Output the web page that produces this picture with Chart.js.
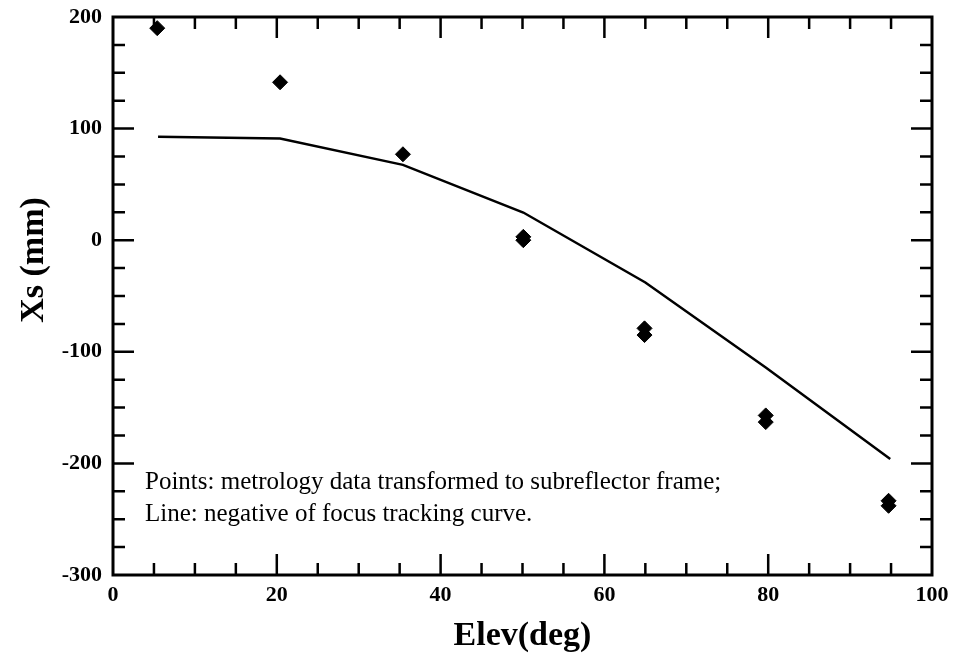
<!DOCTYPE html>
<html>
<head>
<meta charset="utf-8">
<title>Xs vs Elev</title>
<script src="https://cdn.jsdelivr.net/npm/chart.js@4"></script>
<style>
  html, body { margin: 0; padding: 0; background: #fff; }
  #chart { display: block; }
</style>
</head>
<body>
<canvas id="chart" width="953" height="668"></canvas>
<script>
// metrology points (elevation deg, Xs mm) - pairs at same elevation overlap
const pointElev = [5.4, 20.4, 35.4, 50.1, 50.1, 64.9, 64.9, 79.7, 79.7, 94.7, 94.7];
const pointXs   = [190, 141.5, 77, 3, 0, -79, -85, -157, -163, -233.5, -238];

// negative of focus tracking curve
const lineElev = [5.5, 20.4, 35.4, 50.1, 65, 79.7, 94.9];
const lineXs   = [92.6, 91.1, 67.5, 24.8, -37.9, -114, -196];

// axis setup
const xMin = 0, xMax = 100, xStep = 20, xMinor = 5;
const yMin = -300, yMax = 200, yStep = 100, yMinor = 25;

const noteLines = [
  'Points: metrology data transformed to subreflector frame;',
  'Line: negative of focus tracking curve.'
];

const SERIF = "'Liberation Serif', 'Times New Roman', serif";

// inward ticks on all four sides + frame + note + y title
const framePlugin = {
  id: 'frame',
  afterDraw(chart) {
    const { ctx, chartArea: a, scales: { x, y } } = chart;
    ctx.save();
    ctx.strokeStyle = '#000';
    ctx.lineWidth = 2.5;
    ctx.beginPath();
    for (let v = xMin + xMinor; v < xMax; v += xMinor) {
      const px = x.getPixelForValue(v);
      const len = v % xStep === 0 ? 21 : 12;
      ctx.moveTo(px, a.bottom); ctx.lineTo(px, a.bottom - len);
      ctx.moveTo(px, a.top); ctx.lineTo(px, a.top + len);
    }
    for (let v = yMin + yMinor; v < yMax; v += yMinor) {
      const py = y.getPixelForValue(v);
      const len = v % yStep === 0 ? 21 : 12;
      ctx.moveTo(a.left, py); ctx.lineTo(a.left + len, py);
      ctx.moveTo(a.right, py); ctx.lineTo(a.right - len, py);
    }
    ctx.stroke();

    ctx.lineWidth = 3;
    ctx.strokeRect(a.left, a.top, a.right - a.left, a.bottom - a.top);

    // note text
    ctx.fillStyle = '#000';
    ctx.font = `25px ${SERIF}`;
    ctx.textAlign = 'left';
    ctx.textBaseline = 'alphabetic';
    ctx.fillText(noteLines[0], 145, 489);
    ctx.fillText(noteLines[1], 145, 521);

    // y axis title
    ctx.font = `bold 34px ${SERIF}`;
    ctx.translate(43, 260);
    ctx.rotate(-Math.PI / 2);
    ctx.textAlign = 'center';
    ctx.fillText('Xs (mm)', 0, 0);
    ctx.restore();
  }
};

new Chart(document.getElementById('chart'), {
  type: 'scatter',
  data: {
    datasets: [
      {
        label: 'Line',
        data: lineElev.map((e, i) => ({ x: e, y: lineXs[i] })),
        showLine: true,
        borderColor: '#000',
        borderWidth: 2.5,
        pointRadius: 0,
        fill: false
      },
      {
        label: 'Points',
        data: pointElev.map((e, i) => ({ x: e, y: pointXs[i] })),
        pointStyle: 'rectRot',
        pointRadius: 7.5,
        backgroundColor: '#000',
        borderColor: '#000',
        borderWidth: 1
      }
    ]
  },
  options: {
    responsive: false,
    animation: false,
    devicePixelRatio: 1,
    layout: { padding: { top: 17, right: 21, left: 0, bottom: 0 } },
    plugins: {
      legend: { display: false },
      tooltip: { enabled: false }
    },
    scales: {
      x: {
        type: 'linear',
        min: xMin, max: xMax,
        afterFit(scale) {
          scale.height = 93;
          scale.paddingLeft = 0;
          scale.paddingRight = 0;
        },
        grid: { display: false, drawTicks: false },
        border: { display: false },
        ticks: {
          stepSize: xStep,
          padding: 7,
          color: '#000',
          font: { family: SERIF, size: 22, weight: 'bold' }
        },
        title: {
          display: true,
          text: 'Elev(deg)',
          color: '#000',
          padding: { top: 0, bottom: 11 },
          font: { family: SERIF, size: 34, weight: 'bold' }
        }
      },
      y: {
        type: 'linear',
        min: yMin, max: yMax,
        afterFit(scale) {
          scale.width = 113;
          scale.paddingTop = 0;
          scale.paddingBottom = 0;
        },
        grid: { display: false, drawTicks: false },
        border: { display: false },
        ticks: {
          stepSize: yStep,
          padding: 11,
          color: '#000',
          font: { family: SERIF, size: 22, weight: 'bold' }
        }
      }
    }
  },
  plugins: [framePlugin]
});
</script>
</body>
</html>
